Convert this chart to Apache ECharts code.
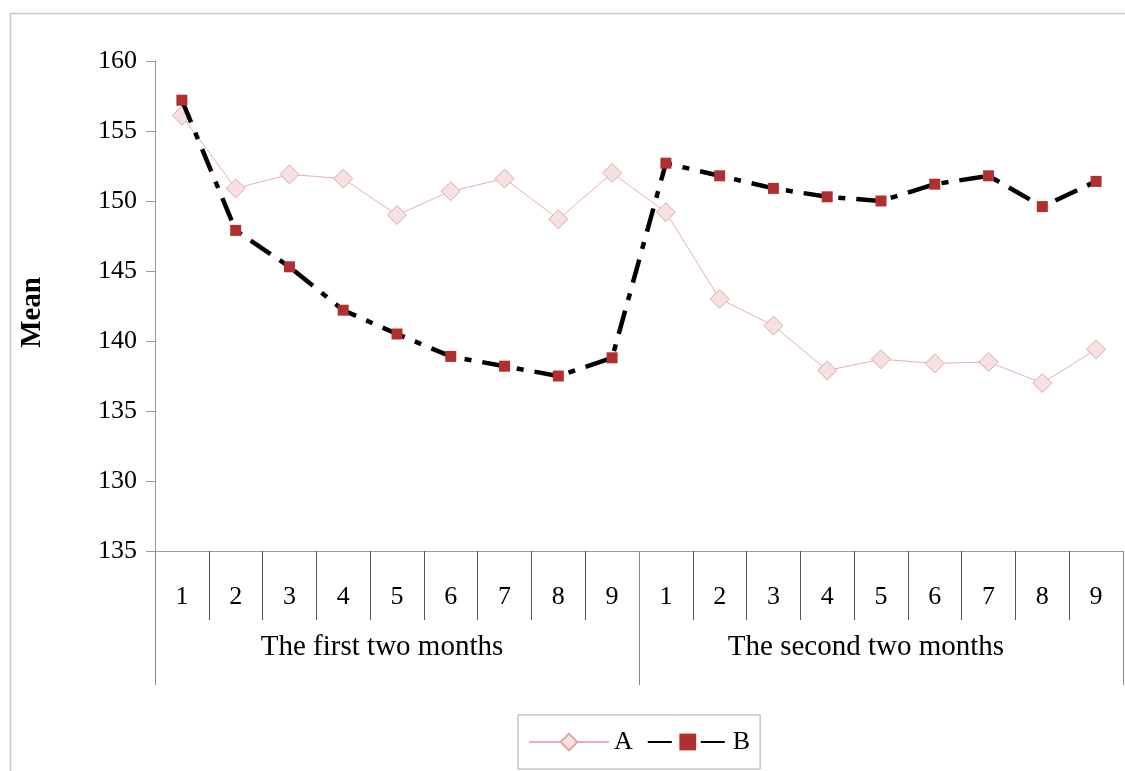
<!DOCTYPE html>
<html>
<head>
<meta charset="utf-8">
<script src="https://cdn.jsdelivr.net/npm/echarts@6/dist/echarts.min.js"></script>
<style>
html,body{margin:0;padding:0;background:#fff;}
#c{width:1125px;height:771px;}
</style>
</head>
<body>
<div id="c"></div>
<script>
const periods = ['1','2','3','4','5','6','7','8','9','1','2','3','4','5','6','7','8','9'];
const groups = ['The first two months', 'The second two months'];
const seriesA = [156.1, 150.9, 151.9, 151.6, 149.0, 150.7, 151.6, 148.7, 152.0, 149.2, 143.0, 141.1, 137.9, 138.7, 138.4, 138.5, 137.0, 139.4];
const seriesB = [157.2, 147.9, 145.3, 142.2, 140.5, 138.9, 138.2, 137.5, 138.8, 152.7, 151.8, 150.9, 150.3, 150.0, 151.2, 151.8, 149.6, 151.4];
const yTickLabels = ['135', '130', '135', '140', '145', '150', '155', '160'];
const yMin = 125, yMax = 160, yStep = 5;

const font = 'Liberation Serif';
const chart = echarts.init(document.getElementById('c'));
chart.setOption({
  backgroundColor: '#fff',
  animation: false,
  textStyle: { fontFamily: font },
  graphic: [{
    type: 'rect',
    shape: { x: 10.5, y: 13.5, width: 1300, height: 900 },
    style: { fill: 'none', stroke: '#c8c8c8', lineWidth: 1.5 },
    silent: true
  }, {
    type: 'text',
    left: 18, top: 277,
    rotation: Math.PI / 2,
    silent: true,
    style: { text: 'Mean', font: 'bold 29px "Liberation Serif"', fill: '#000' }
  }],
  grid: { left: 155, top: 61, right: 2, bottom: 220, containLabel: false },
  legend: {
    left: 518, top: 715,
    padding: [14, 10, 14, 10],
    borderColor: '#aaa', borderWidth: 1,
    itemWidth: 80, itemHeight: 21, itemGap: 14,
    textStyle: { fontFamily: font, fontSize: 26, color: '#000' },
    data: ['A', 'B']
  },
  xAxis: [{
    type: 'category',
    data: periods,
    boundaryGap: true,
    axisLine: { show: true, lineStyle: { color: '#999', width: 1 } },
    axisTick: { show: true, interval: 0, length: 69, lineStyle: { color: '#555', width: 1 } },
    axisLabel: { show: true, interval: 0, margin: 33, fontFamily: font, fontSize: 26, color: '#000' }
  }, {
    type: 'category',
    data: groups,
    position: 'bottom',
    boundaryGap: true,
    axisLine: { show: false },
    axisTick: { show: true, interval: 0, length: 134, lineStyle: { color: '#888', width: 1 } },
    axisLabel: { show: true, interval: 0, margin: 82, fontFamily: font, fontSize: 29, color: '#000', padding: [0, 30, 0, 0] }
  }],
  yAxis: {
    type: 'value',
    min: yMin, max: yMax, interval: yStep,
    splitLine: { show: false },
    axisLine: { show: true, lineStyle: { color: '#999', width: 1 } },
    axisTick: { show: true, length: 9, lineStyle: { color: '#999' } },
    axisLabel: {
      margin: 18, fontFamily: font, fontSize: 26, color: '#000',
      formatter: function (v) { return yTickLabels[Math.round((v - yMin) / yStep)]; }
    }
  },
  series: [{
    name: 'A',
    type: 'line',
    data: seriesA,
    symbol: 'diamond',
    symbolSize: 19,
    itemStyle: { color: '#f5e1e1', borderColor: '#e2a6a6', borderWidth: 1 },
    lineStyle: { color: '#e8b0b0', width: 1 },
    z: 2
  }, {
    name: 'B',
    type: 'line',
    data: seriesB,
    symbol: 'rect',
    symbolSize: 11,
    itemStyle: { color: '#b03030', borderColor: '#b03030', borderWidth: 0 },
    lineStyle: { color: '#000', width: 4.5, type: [24, 11, 7, 11] },
    z: 3
  }]
});
</script>
</body>
</html>
